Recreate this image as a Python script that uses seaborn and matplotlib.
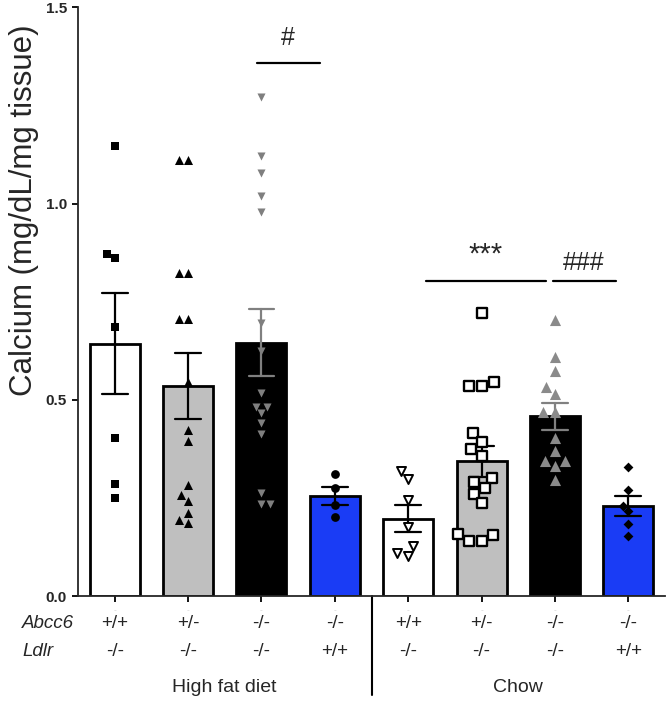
import numpy as np
import pandas as pd
import matplotlib
matplotlib.use("Agg")
import matplotlib.pyplot as plt
import seaborn as sns

# genotype / diet groups
groups = ["HFD_wt", "HFD_het", "HFD_ko", "HFD_ldlr", "Chow_wt", "Chow_het", "Chow_ko", "Chow_ldlr"]
abcc6 = ["+/+", "+/-", "-/-", "-/-", "+/+", "+/-", "-/-", "-/-"]
ldlr = ["-/-", "-/-", "-/-", "+/+", "-/-", "-/-", "-/-", "+/+"]
diets = ["High fat diet", "Chow"]

# calcium values (mg/dL/mg tissue)
hfd_wt = [1.147, 0.872, 0.861, 0.686, 0.402, 0.285, 0.249]
hfd_het = [1.111, 1.111, 0.822, 0.822, 0.706, 0.706, 0.546, 0.423, 0.395,
           0.282, 0.257, 0.242, 0.212, 0.194, 0.185]
hfd_ko = [1.272, 1.122, 1.079, 1.020, 0.979, 0.695, 0.623, 0.518, 0.482,
          0.482, 0.466, 0.440, 0.413, 0.262, 0.234, 0.234]
hfd_ldlr = [0.311, 0.274, 0.232, 0.202]
chow_wt = [0.319, 0.297, 0.245, 0.175, 0.127, 0.102, 0.110]
chow_het = [0.720, 0.544, 0.535, 0.535, 0.416, 0.393, 0.374, 0.357, 0.300,
            0.291, 0.274, 0.260, 0.236, 0.157, 0.155, 0.141, 0.141]
chow_ko = [0.702, 0.608, 0.574, 0.533, 0.515, 0.470, 0.470, 0.402, 0.370,
           0.345, 0.345, 0.330, 0.296]
chow_ldlr = [0.328, 0.270, 0.229, 0.217, 0.183, 0.153]

values = [hfd_wt, hfd_het, hfd_ko, hfd_ldlr, chow_wt, chow_het, chow_ko, chow_ldlr]
df = pd.DataFrame({
    "group": np.repeat(groups, [len(v) for v in values]),
    "calcium": np.concatenate(values),
})

# styles
blue = "#1a3cf5"
bar_colors = ["white", "#bfbfbf", "black", blue, "white", "#bfbfbf", "black", blue]
err_colors = ["black", "black", "#808080", "black", "black", "black", "#808080", "black"]
markers = ["s", "^", "v", "o", "v", "s", "^", "D"]
face = ["black", "black", "#7f7f7f", "black", "white", "white", "#8a8a8a", "black"]
msize = [6.3, 6.5, 5.8, 6.3, 6.5, 7, 8, 5]
mlw = [0, 0, 0, 0, 1.4, 1.7, 0, 0]

sns.set_style("ticks")
plt.rcParams["font.family"] = ["Liberation Sans", "DejaVu Sans"]

fig = plt.figure(figsize=(6.68, 7.01), dpi=100)
ax = fig.add_axes([78 / 668, 105 / 701, 587 / 668, 588.7 / 701])

for i, g in enumerate(groups):
    sub = df[df["group"] == g]
    sns.barplot(data=sub, x="group", y="calcium", order=groups, ax=ax,
                color=bar_colors[i], saturation=1, width=0.68,
                edgecolor="black", linewidth=2,
                errorbar="se", capsize=0.35,
                err_kws={"color": err_colors[i], "linewidth": 1.6})
for i, g in enumerate(groups):
    sub = df[df["group"] == g]
    sns.swarmplot(data=sub, x="group", y="calcium", order=groups, ax=ax,
                  marker=markers[i], color=face[i], size=msize[i],
                  edgecolor="black", linewidth=mlw[i], zorder=3)

ax.set_xlim(-0.5, 7.5)
ax.set_ylim(0, 1.5)
ax.set_yticks([0, 0.5, 1.0, 1.5])
ax.set_yticklabels(["0.0", "0.5", "1.0", "1.5"], fontsize=11, fontweight="bold")
ax.set_xticks(range(len(groups)))
ax.set_xticklabels(["-"] * len(groups), fontsize=6, color="#d0d0d0")
ax.tick_params(axis="both", length=4.5, width=1.3, color="black")
ax.set_xlabel("")
ax.set_ylabel("")
for s in ["top", "right"]:
    ax.spines[s].set_visible(False)
for s in ["left", "bottom"]:
    ax.spines[s].set_linewidth(1.3)

fig.text(24 / 668, 1 - 210 / 701, "Calcium (mg/dL/mg tissue)", rotation=90,
         ha="center", va="center", fontsize=22.5)

# genotype rows under the axis
tr = ax.get_xaxis_transform()
for i in range(len(groups)):
    ax.text(i, -0.046, abcc6[i], transform=tr, ha="center", va="center", fontsize=13.5)
    ax.text(i, -0.095, ldlr[i], transform=tr, ha="center", va="center", fontsize=13.5)
fig.text(22 / 668, 1 - 623 / 701, "Abcc6", ha="left", va="center", fontsize=13.5, style="italic")
fig.text(22 / 668, 1 - 652 / 701, "Ldlr", ha="left", va="center", fontsize=13.5, style="italic")
ax.text(1.5, -0.156, diets[0], transform=tr, ha="center", va="center", fontsize=14)
ax.text(5.5, -0.156, diets[1], transform=tr, ha="center", va="center", fontsize=14)
ax.plot([3.5, 3.5], [0, -0.168], transform=tr, color="black", lw=1.5, clip_on=False)

# significance marks
ax.plot([1.935, 2.797], [1.357, 1.357], color="black", lw=1.6)
ax.text(2.366, 1.421, "#", ha="center", va="center", fontsize=18)
ax.plot([4.237, 5.872], [0.803, 0.803], color="black", lw=1.6)
ax.text(5.054, 0.869, "***", ha="center", va="center", fontsize=21)
ax.plot([5.977, 6.826], [0.803, 0.803], color="black", lw=1.6)
ax.text(6.394, 0.849, "###", ha="center", va="center", fontsize=18)

fig.savefig("out.png", dpi=100)
